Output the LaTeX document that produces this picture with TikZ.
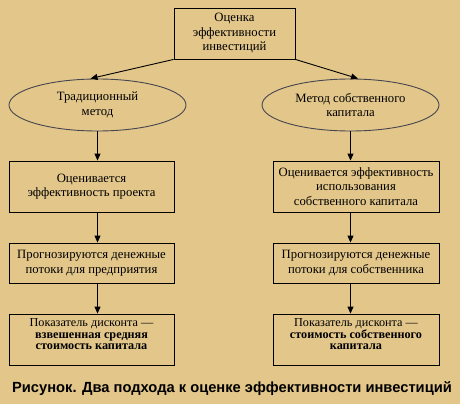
\documentclass[tikz,border=0pt]{standalone}
\usepackage{fontspec}
\setmainfont{Liberation Serif}
\newfontfamily\capfont{Liberation Sans}
\usetikzlibrary{shapes.geometric,arrows.meta}
\definecolor{bg}{RGB}{227,198,138}
\definecolor{edge}{RGB}{70,70,80}
\begin{document}
\begin{tikzpicture}[x=1pt,y=-1pt,
  box/.style={draw=black,line width=0.9pt,rectangle,inner sep=0pt,align=center,font=\fontsize{12.7}{14.5}\selectfont},
  oval/.style={draw=edge,line width=0.9pt,ellipse,inner sep=0pt,align=center,font=\fontsize{12.7}{14.5}\selectfont},
  smalltxt/.style={inner sep=0pt,align=center,font=\fontsize{12.2}{11.5}\selectfont},
  arr/.style={line width=0.9pt,-{Triangle[length=7pt,width=6pt]}}]
\fill[bg] (0,0) rectangle (460,404);
\useasboundingbox (0,0) rectangle (460,404);
\node[box,minimum width=121,minimum height=51] (top) at (234.5,33.5) {Оценка\\эффективности\\инвестиций};
\node[oval,minimum width=177,minimum height=52] (e1) at (97.5,105) {Традиционный\\метод};
\node[oval,minimum width=177,minimum height=52] (e2) at (350.5,105) {Метод собственного\\капитала};
\node[box,minimum width=165,minimum height=51] (l1) at (91.5,186.5) {Оценивается\\эффективность проекта};
\node[box,minimum width=165,minimum height=40] (l2) at (91.5,263) {Прогнозируются денежные\\потоки для предприятия};
\node[box,minimum width=165,minimum height=51] (l3) at (91.5,339.5) {};
\node[smalltxt,anchor=north] (l3t) at ([yshift=-5]l3.north) {Показатель дисконта —\\\textbf{взвешенная средняя}\\\textbf{стоимость капитала}};
\node[box,minimum width=166,minimum height=51] (r1) at (356,186.5) {Оценивается эффективность\\использования\\собственного капитала};
\node[box,minimum width=166,minimum height=40] (r2) at (356,263) {Прогнозируются денежные\\потоки для собственника};
\node[box,minimum width=166,minimum height=51] (r3) at (356,339.5) {};
\node[smalltxt,anchor=north] (r3t) at ([yshift=-5]r3.north) {Показатель дисконта —\\\textbf{стоимость собственного}\\\textbf{капитала}};
\node[font=\capfont\bfseries\fontsize{14.7}{16}\selectfont,inner sep=0pt] (cap) at (232,389) {Рисунок. Два подхода к оценке эффективности инвестиций};
\draw[arr] (top.south west) -- ([xshift=-7]e1.north);
\draw[arr] (top.south east) -- ([xshift=7.5]e2.north);
\draw[arr] (e1.south) -- (e1.south |- l1.north);
\draw[arr] (l1.south -| e1.south) -- (l2.north -| e1.south);
\draw[arr] (l2.south -| e1.south) -- (l3.north -| e1.south);
\draw[arr] (e2.south) -- (e2.south |- r1.north);
\draw[arr] (r1.south -| e2.south) -- (r2.north -| e2.south);
\draw[arr] (r2.south -| e2.south) -- (r3.north -| e2.south);
\end{tikzpicture}
\end{document}
